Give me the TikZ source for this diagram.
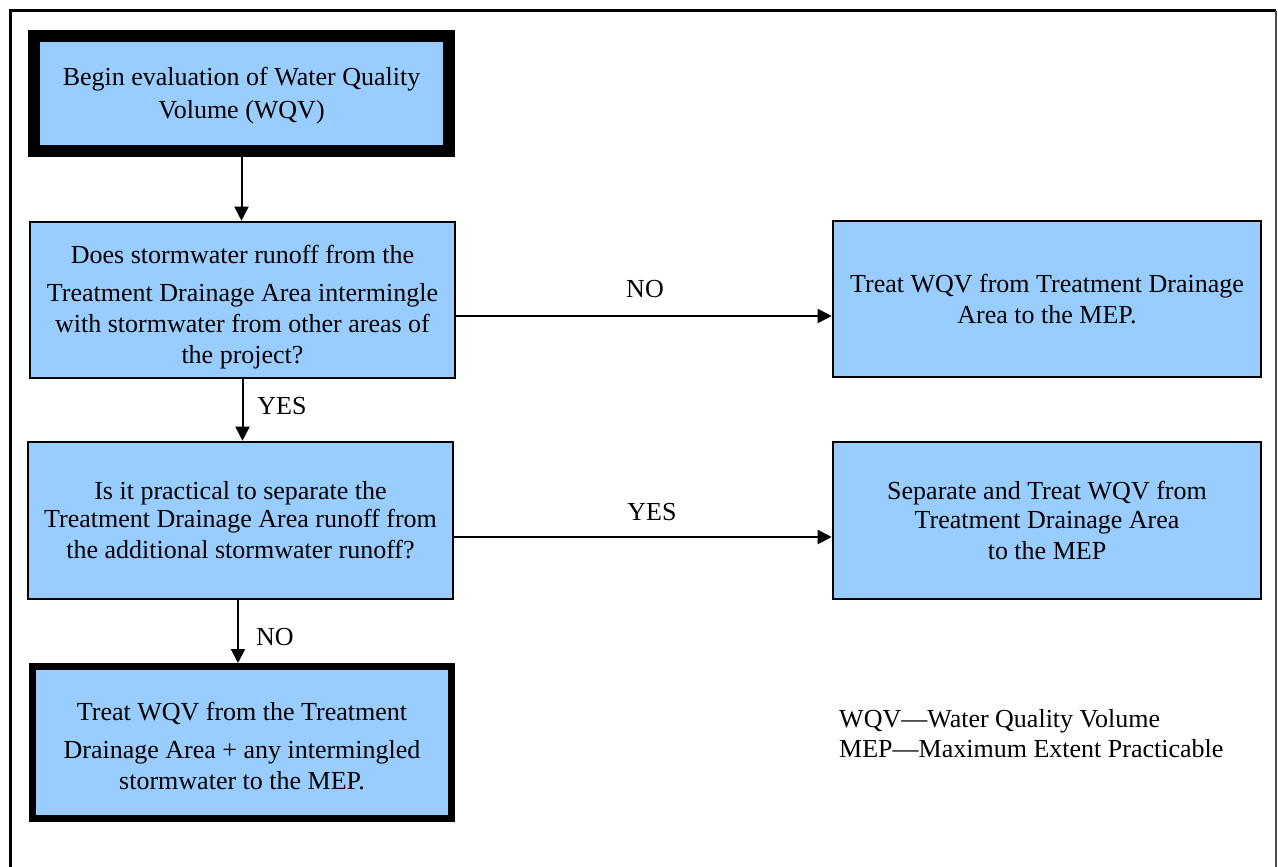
\documentclass[tikz,border=0pt]{standalone}
\usepackage{fontspec}
\setmainfont{Liberation Serif}
\usetikzlibrary{arrows.meta}
\definecolor{boxblue}{RGB}{153,204,255}
\tikzset{
  boxstyle/.style={draw=black, fill=boxblue, line width=2.6pt, align=center,
    inner sep=0pt, font=\fontsize{26}{31}\selectfont},
  thickbox/.style={boxstyle, line width=12pt},
  midbox/.style={boxstyle, line width=7pt},
  flow/.style={line width=2pt, -{Triangle[length=14pt,width=14pt]}},
  lbl/.style={font=\fontsize{26}{31}\selectfont, inner sep=0pt}
}
\begin{document}
\begin{tikzpicture}[x=1pt,y=-1pt]
\useasboundingbox (0,0) rectangle (1278,867);
\fill[white] (0,0) rectangle (1278,867);
% outer frame
\draw[line width=3pt] (10,867) -- (10,11) -- (1276,11);
\draw[line width=1.5pt, black!70] (1276,11) -- (1276,867);

\node[thickbox, minimum width=415pt, minimum height=115pt] (b1) at (241.5,93.5)
  {\rule{0pt}{22pt}Begin evaluation of Water Quality\\[2pt]Volume (WQV)};
\node[boxstyle, minimum width=425pt, minimum height=156pt] (b2) at (242.5,300)
  {\rule{0pt}{32pt}Does stormwater runoff from the\\[7pt]Treatment Drainage Area intermingle\\with stormwater from other areas of\\the project?};
\node[boxstyle, minimum width=425pt, minimum height=157pt] (b3) at (240.5,520.5)
  {Is it practical to separate the\\[-3pt]Treatment Drainage Area runoff from\\the additional stormwater runoff?};
\node[midbox, minimum width=419pt, minimum height=152pt] (b4) at (242,742.5)
  {\rule{0pt}{26pt}Treat WQV from the Treatment\\[7pt]Drainage Area + any intermingled\\stormwater to the MEP.};
\node[boxstyle, minimum width=428pt, minimum height=156pt] (r1) at (1047,299)
  {Treat WQV from Treatment Drainage\\Area to the MEP.};
\node[boxstyle, minimum width=428pt, minimum height=157pt] (r2) at (1047,520.5)
  {Separate and Treat WQV from\\[-2pt]Treatment Drainage Area\\to the MEP};

\draw[flow] (b1.south) -- (b1.south |- b2.north);
\draw[flow] (b2.south) -- (b2.south |- b3.north);
\draw[flow] ([xshift=-2.5pt]b3.south) -- ([xshift=-2.5pt]b3.south |- b4.north);
\coordinate (e2) at ([yshift=-16pt]b2.east);
\coordinate (e3) at ([yshift=-16.5pt]b3.east);
\draw[flow] (e2) -- (e2 -| r1.west);
\draw[flow] (e3) -- (e3 -| r2.west);

\node[lbl] (lno1) at (645,289) {NO};
\node[lbl] (lyes2) at (652,512) {YES};
\node[lbl] (lyes1) at (282,406) {YES};
\node[lbl] (lno2) at (275,637) {NO};

\node[lbl, anchor=base west, align=left, font=\fontsize{26}{30}\selectfont] (legend) at (839,757)
  {WQV---Water Quality Volume\\MEP---Maximum Extent Practicable};
\end{tikzpicture}
\end{document}
